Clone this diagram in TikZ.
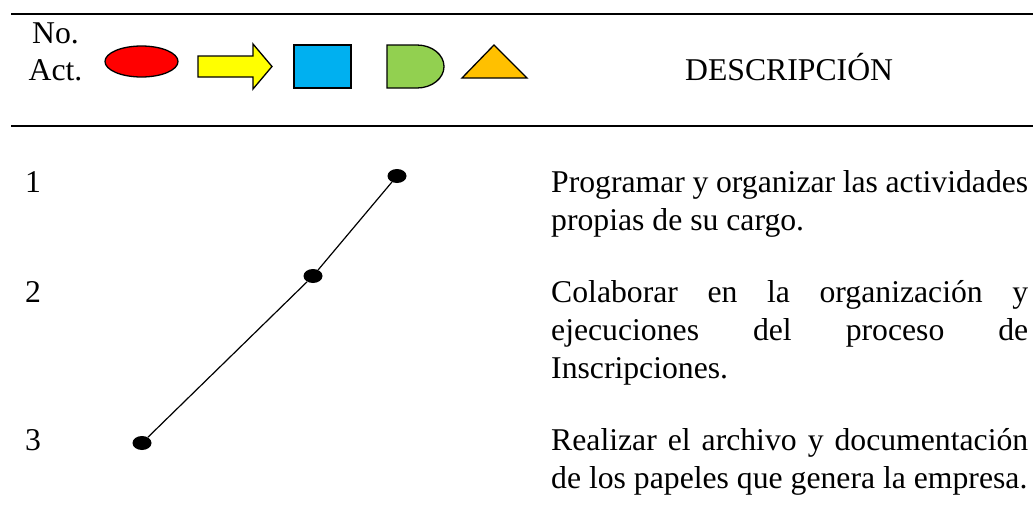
\documentclass[tikz,border=0pt]{standalone}
\usepackage{fontspec}
\setmainfont{Liberation Serif}
\usepackage{tikz}
\usetikzlibrary{
  shapes.geometric,
  positioning
}
\definecolor{rojo}{HTML}{FF0000}
\definecolor{amarillo}{HTML}{FFFF00}
\definecolor{azul}{HTML}{00B0F0}
\definecolor{verde}{HTML}{92D050}
\definecolor{naranja}{HTML}{FFC000}
\tikzset{
  txt/.style={font=\fontsize{31.7}{38}\selectfont, inner sep=0pt, anchor=base west},
  parrafo/.style={txt, text width=477pt, align=left},
  simbolo/.style={draw, line width=1.3pt, inner sep=0pt},
  punto/.style={ellipse, fill=black, minimum width=19pt, minimum height=14pt, inner sep=0pt},
  regla/.style={line width=2pt},
  conector/.style={line width=1.2pt}
}
% lineas justificadas y ultima linea
\newcommand{\jline}[1]{{\spaceskip=0pt\xspaceskip=0pt\makebox[477pt][s]{#1}}}
\newcommand{\lline}[1]{{\spaceskip=0pt\xspaceskip=0pt\makebox[477pt][l]{#1}}}

\begin{document}
\begin{tikzpicture}[x=1pt, y=-1pt]
    \useasboundingbox (0,0) rectangle (1033,525);
    % encabezado
    \draw[regla] (11,14) -- (1033,14);
    \draw[regla] (11,126) -- (1033,126);
    \node[txt, anchor=base] (no) at (55.5,43) {No.};
    \node[txt, anchor=base] (act) at (55.5,80) {Act.};
    \node[simbolo, ellipse, fill=rojo, minimum width=73pt, minimum height=31pt] (elipse) at (141.5,61.5) {};
    \draw[simbolo, fill=amarillo] (198,56) -- (253,56) -- (253,44) -- (272,66.5) -- (253,89) -- (253,77) -- (198,77) -- cycle;
    \node[simbolo, fill=azul, minimum width=57pt, minimum height=43pt] (cuadro) at (322.5,66.5) {};
    \draw[simbolo, fill=verde] (387,45) -- (417,45) arc[start angle=90, end angle=-90, x radius=27pt, y radius=21.5pt] -- (387,88) -- cycle;
    \draw[simbolo, fill=naranja] (462,78) -- (494,45) -- (527,78) -- cycle;
    \node[txt] (desc) at (685,80) {DESCRIPCIÓN};
    % actividades
    \node[txt] (n1) at (25,192) {1};
    \node[txt] (n2) at (25,302) {2};
    \node[txt] (n3) at (25,450) {3};
    \node[parrafo] (p1) at (551,192) {\jline{Programar y organizar las actividades}\\\lline{propias de su cargo.}};
    \node[parrafo] (p2) at (551,302) {\jline{Colaborar en la organización y}\\\jline{ejecuciones del proceso de}\\\lline{Inscripciones.}};
    \node[parrafo] (p3) at (551,450) {\jline{Realizar el archivo y documentación}\\\lline{de los papeles que genera la empresa.}};
    % recorrido
    \node[punto] (d1) at (397,176) {};
    \node[punto] (d2) at (313,276) {};
    \node[punto] (d3) at (142,443) {};
    \draw[conector] (d1) -- (d2) -- (d3);
\end{tikzpicture}
\end{document}
